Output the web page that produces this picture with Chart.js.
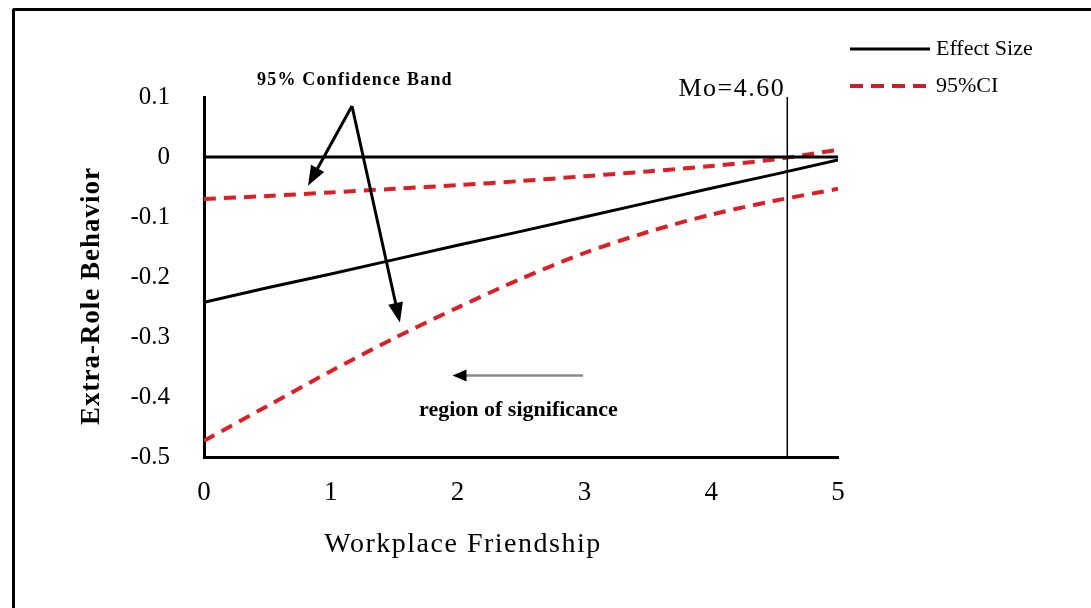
<!DOCTYPE html>
<html>
<head>
<meta charset="utf-8">
<script src="https://cdn.jsdelivr.net/npm/chart.js@4.4.1/dist/chart.umd.min.js"></script>
<style>
  html, body { margin: 0; padding: 0; background: #fff; overflow: hidden; }
  #frame {
    position: absolute; left: 12px; top: 8px; width: 2000px; height: 2000px;
    border-left: 3px solid #000; border-top: 3px solid #000; border-top-left-radius: 3px;
  }
  #wrap { position: absolute; left: 0; top: 0; width: 1091px; height: 608px; }
</style>
</head>
<body>
<div id="frame"></div>
<div id="wrap"><canvas id="jnChart"></canvas></div>
<script>
// Johnson-Neyman plot: effect of Workplace Friendship on Extra-Role Behavior

// x values (Workplace Friendship)
const friendship = [0, 0.5, 1, 1.5, 2, 2.5, 3, 3.5, 4, 4.5, 5];
// effect size (solid black)
const effectSize = [-0.242, -0.218, -0.195, -0.171, -0.147, -0.124, -0.100, -0.076, -0.052, -0.029, -0.005];
// 95% confidence band (dashed red)
const ciLower = [-0.473, -0.415, -0.357, -0.302, -0.251, -0.203, -0.160, -0.125, -0.096, -0.073, -0.053];
const ciUpper = [-0.070, -0.065, -0.059, -0.053, -0.047, -0.040, -0.032, -0.024, -0.015, -0.004, 0.012];
// zero reference line and the Johnson-Neyman point
const zeroLine = [0, 0];
const zeroX = [0, 5];
const moValue = 4.60;
const yRange = [-0.5, 0.1];

const xTicks = [0, 1, 2, 3, 4, 5];
const yTicks = [0.1, 0, -0.1, -0.2, -0.3, -0.4, -0.5];

const SERIF = "'Liberation Serif', 'Times New Roman', serif";
const RED = '#dc1f26';

const toPoints = (xs, ys) => xs.map((x, i) => ({ x: x, y: ys[i] }));

// 注記・凡例・軸タイトルを描くプラグイン
const decorPlugin = {
  id: 'decor',
  afterDraw(chart) {
    const ctx = chart.ctx;
    const sx = chart.scales.x, sy = chart.scales.y;
    const px = v => sx.getPixelForValue(v);
    const py = v => sy.getPixelForValue(v);

    function arrow(x1, y1, x2, y2, color, width, headColor, hl, hw) {
      const a = Math.atan2(y2 - y1, x2 - x1);
      ctx.save();
      ctx.strokeStyle = color;
      ctx.lineWidth = width;
      ctx.beginPath();
      ctx.moveTo(x1, y1);
      ctx.lineTo(x2 - Math.cos(a) * hl * 0.8, y2 - Math.sin(a) * hl * 0.8);
      ctx.stroke();
      ctx.fillStyle = headColor;
      ctx.beginPath();
      ctx.moveTo(x2, y2);
      ctx.lineTo(x2 - Math.cos(a) * hl - Math.sin(a) * hw / 2, y2 - Math.sin(a) * hl + Math.cos(a) * hw / 2);
      ctx.lineTo(x2 - Math.cos(a) * hl + Math.sin(a) * hw / 2, y2 - Math.sin(a) * hl - Math.cos(a) * hw / 2);
      ctx.closePath();
      ctx.fill();
      ctx.restore();
    }

    ctx.save();
    ctx.fillStyle = '#000';
    ctx.textBaseline = 'middle';

    // axis titles
    ctx.textAlign = 'center';
    ctx.font = '28px ' + SERIF;
    ctx.letterSpacing = '1.5px';
    ctx.fillText('Workplace Friendship', 463, 545);
    ctx.save();
    ctx.translate(92, 296);
    ctx.rotate(-Math.PI / 2);
    ctx.font = 'bold 27px ' + SERIF;
    ctx.letterSpacing = '1px';
    ctx.fillText('Extra-Role Behavior', 0, 0);
    ctx.restore();

    // annotations
    ctx.font = 'bold 18px ' + SERIF;
    ctx.letterSpacing = '1.2px';
    ctx.fillText('95% Confidence Band', px(1.19), py(0.127));

    ctx.font = 'bold 22px ' + SERIF;
    ctx.letterSpacing = '0px';
    ctx.fillText('region of significance', px(2.48), py(-0.423));

    ctx.textAlign = 'right';
    ctx.font = '26px ' + SERIF;
    ctx.letterSpacing = '1.5px';
    ctx.fillText('Mo=4.60', px(moValue) - 2, py(0.113));
    ctx.letterSpacing = '0px';

    arrow(px(1.167), py(0.085), px(0.82), py(-0.048), '#000', 3, '#000', 20, 15);
    arrow(px(1.167), py(0.085), px(1.545), py(-0.276), '#000', 3, '#000', 20, 15);
    arrow(px(2.99), py(-0.364), px(1.96), py(-0.364), '#8a8a8a', 2.5, '#000', 14, 12);

    // legend
    const items = [
      { label: 'Effect Size', color: '#000', width: 3, dash: [], y: 49 },
      { label: '95%CI', color: '#c8202a', width: 4, dash: [13, 8], y: 86 }
    ];
    ctx.textAlign = 'left';
    ctx.font = '22px ' + SERIF;
    items.forEach(it => {
      ctx.save();
      ctx.strokeStyle = it.color;
      ctx.lineWidth = it.width;
      ctx.setLineDash(it.dash);
      ctx.beginPath();
      ctx.moveTo(850, it.y);
      ctx.lineTo(930, it.y);
      ctx.stroke();
      ctx.restore();
      ctx.fillText(it.label, 936, it.y);
    });
    ctx.restore();
  }
};

const ctx = document.getElementById('jnChart').getContext('2d');
const chart = new Chart(ctx, {
  type: 'scatter',
  data: {
    datasets: [
      {
        label: 'zero',
        data: toPoints(zeroX, zeroLine),
        showLine: true, borderColor: '#000', borderWidth: 3, pointRadius: 0
      },
      {
        label: 'Mo',
        data: toPoints([moValue, moValue], yRange),
        showLine: true, borderColor: '#000', borderWidth: 1.5, pointRadius: 0
      },
      {
        label: 'Effect Size',
        data: toPoints(friendship, effectSize),
        showLine: true, borderColor: '#000', borderWidth: 3, pointRadius: 0
      },
      {
        label: '95%CI',
        data: toPoints(friendship, ciUpper),
        showLine: true, borderColor: RED, borderWidth: 4, borderDash: [12, 8],
        pointRadius: 0, tension: 0.3
      },
      {
        label: '95%CI lower',
        data: toPoints(friendship, ciLower),
        showLine: true, borderColor: RED, borderWidth: 4, borderDash: [12, 8],
        pointRadius: 0, tension: 0.3
      }
    ]
  },
  options: {
    responsive: true,
    maintainAspectRatio: false,
    animation: false,
    layout: { padding: { top: 97, right: 253, left: 0, bottom: 0 } },
    plugins: {
      legend: { display: false },
      tooltip: { enabled: false }
    },
    scales: {
      x: {
        type: 'linear',
        min: 0, max: 5,
        afterBuildTicks: s => { s.ticks = xTicks.map(v => ({ value: v })); },
        afterFit: s => { s.height = 151; },
        grid: { display: false },
        border: { color: '#000', width: 3 },
        ticks: { color: '#000', padding: 12, font: { family: SERIF, size: 27 } }
      },
      y: {
        min: yRange[0], max: yRange[1],
        afterBuildTicks: s => { s.ticks = yTicks.map(v => ({ value: v })); },
        afterFit: s => { s.width = 204; },
        grid: { display: false },
        border: { color: '#000', width: 3 },
        ticks: {
          color: '#000', padding: 26, font: { family: SERIF, size: 25 },
          callback: v => parseFloat(Number(v).toFixed(1)).toString()
        }
      }
    }
  },
  plugins: [decorPlugin]
});
</script>
</body>
</html>
